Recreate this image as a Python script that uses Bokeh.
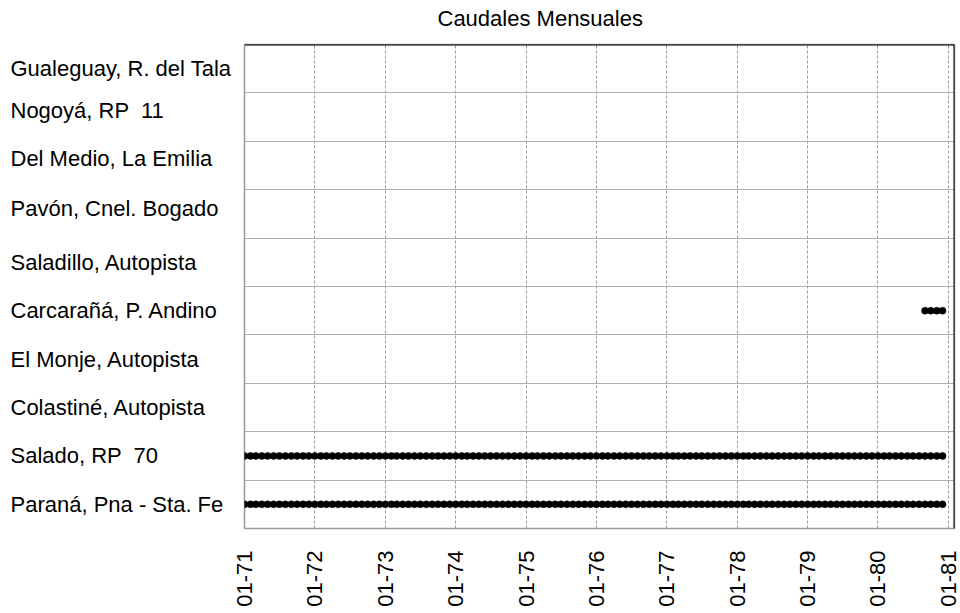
import pandas as pd
from math import pi
from bokeh.plotting import figure
from bokeh.layouts import column, row
from bokeh.models import (FactorRange, Range1d, FixedTicker, DatetimeTickFormatter, Span,
                          Grid)
from bokeh.core.properties import value
from bokeh.embed import file_html
from bokeh.resources import INLINE

# ---------------- data ----------------
title_text = "Caudales Mensuales"

# stations, top to bottom as in the chart
stations = [
    "Gualeguay, R. del Tala",
    "Nogoyá, RP \u00a011",
    "Del Medio, La Emilia",
    "Pavón, Cnel. Bogado",
    "Saladillo, Autopista",
    "Carcarañá, P. Andino",
    "El Monje, Autopista",
    "Colastiné, Autopista",
    "Salado, RP \u00a070",
    "Paraná, Pna - Sta. Fe",
]

# periods with monthly records (first month, last month)
period_station = ["Paraná, Pna - Sta. Fe", "Salado, RP \u00a070", "Carcarañá, P. Andino"]
period_start = ["1971-01", "1971-01", "1980-09"]
period_end = ["1980-12", "1980-12", "1980-12"]

tick_dates = ["1971-01-01", "1972-01-01", "1973-01-01", "1974-01-01", "1975-01-01",
              "1976-01-01", "1977-01-01", "1978-01-01", "1979-01-01", "1980-01-01",
              "1981-01-01"]
x_start = "1971-01-01"
x_end = "1981-02-01"

# ---------------- style / layout ----------------
FONT = "Liberation Sans"
FS = "22px"
label_shift = [0, 0.14, 0.14, 0.12, 0, 0, 0, 0, 0, 0]   # upward shift of row labels (rows)
TOP_H = 42
MAIN_H = 488
BOT_H = 80
LAB_W = 240
FRAME_L = 244
FRAME_R_PAD = 6
FRAME_W = 960 - FRAME_L - FRAME_R_PAD
TITLE_X = 193          # title start, px from frame left


def bare(fig):
    fig.outline_line_color = None
    fig.background_fill_color = "white"
    fig.border_fill_color = "white"
    return fig


n = len(stations)
x_rng = Range1d(pd.Timestamp(x_start), pd.Timestamp(x_end))
tick_ms = [pd.Timestamp(d).value / 1e6 for d in tick_dates]

# ---------------- title strip ----------------
t = bare(figure(width=960, height=TOP_H, x_range=Range1d(0, FRAME_W), y_range=Range1d(0, TOP_H),
                x_axis_location=None, y_axis_location=None, output_backend="svg",
                toolbar_location=None, min_border_left=FRAME_L, min_border_right=FRAME_R_PAD,
                min_border_top=0, min_border_bottom=0))
for g in t.grid:
    g.visible = False
t.text(x=[TITLE_X], y=[TOP_H - 17.5], text=[title_text], text_align="left",
       text_baseline="middle", text_font=value(FONT), text_font_size=FS, text_color="black")

# ---------------- row labels ----------------
lab = bare(figure(width=LAB_W, height=MAIN_H, x_range=Range1d(0, LAB_W), y_range=Range1d(0, n),
                  x_axis_location=None, y_axis_location=None, output_backend="svg",
                  toolbar_location=None, min_border_left=0, min_border_right=0,
                  min_border_top=2, min_border_bottom=2))
for g in lab.grid:
    g.visible = False
lab_y = [n - i - 0.5 + label_shift[i] for i in range(n)]
lab.text(x=[10] * n, y=lab_y, text=stations, text_align="left", text_baseline="middle",
         text_font=value(FONT), text_font_size=FS, text_color="black")

# ---------------- main plot ----------------
xs, ys = [], []
for st, a, b_ in zip(period_station, period_start, period_end):
    months = pd.date_range(a, b_, freq="MS")
    xs.extend(months)
    ys.extend([st] * len(months))

p = figure(
    width=960 - LAB_W, height=MAIN_H,
    x_axis_type="datetime", x_range=x_rng,
    y_range=FactorRange(factors=stations[::-1]),
    x_axis_location=None, y_axis_location=None,
    output_backend="svg", toolbar_location=None,
    min_border_left=FRAME_L - LAB_W, min_border_right=FRAME_R_PAD,
    min_border_top=2, min_border_bottom=2,
)
p.background_fill_color = "white"
p.border_fill_color = "white"
p.outline_line_color = "#999999"
p.outline_line_width = 1.5
for g in p.grid:
    g.visible = False

p.add_layout(Grid(dimension=0, ticker=FixedTicker(ticks=tick_ms), grid_line_color="#999999",
                  grid_line_dash="3 2", grid_line_width=1))
p.add_layout(Grid(dimension=1, ticker=FixedTicker(ticks=list(range(1, n))),
                  grid_line_color="#b0b0b0", grid_line_width=1))

p.scatter(x=xs, y=ys, size=7, marker="circle", fill_color="black",
          line_color="black", line_width=0.5)

# top and right borders in black
p.add_layout(Span(location=float(n), dimension="width", line_color="black", line_width=2))
p.add_layout(Span(location=pd.Timestamp(x_end).value / 1e6, dimension="height",
                  line_color="black", line_width=2))

# ---------------- x axis strip ----------------
b = bare(figure(width=960, height=BOT_H, x_axis_type="datetime", x_range=x_rng,
                y_range=Range1d(0, 1), y_axis_location=None, output_backend="svg",
                toolbar_location=None, min_border_left=FRAME_L, min_border_right=FRAME_R_PAD,
                min_border_top=0, min_border_bottom=BOT_H - 1))
for g in b.grid:
    g.visible = False
b.xaxis.ticker = FixedTicker(ticks=tick_ms)
b.xaxis.formatter = DatetimeTickFormatter(years="%m-%y", months="%m-%y", days="%m-%y",
                                          hours="%m-%y", hourmin="%m-%y")
b.xaxis.major_label_orientation = pi / 2
b.xaxis.major_tick_out = 0
b.xaxis.major_tick_in = 0
b.xaxis.minor_tick_out = 0
b.xaxis.minor_tick_in = 0
b.xaxis.major_label_standoff = 19
b.xaxis.axis_line_color = None
b.xaxis.major_label_text_font = FONT
b.xaxis.major_label_text_font_size = FS
b.xaxis.major_label_text_color = "black"

layout = column(t, row(lab, p, spacing=0), b, spacing=0)
open("out.html", "w").write(file_html(layout, INLINE))
